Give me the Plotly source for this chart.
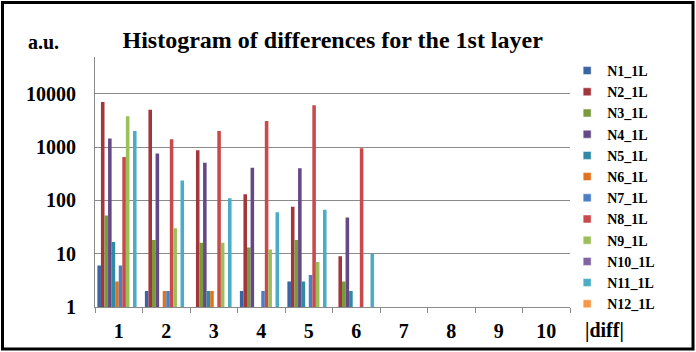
import plotly.graph_objects as go

categories = ["1", "2", "3", "4", "5", "6", "7", "8", "9", "10"]
series_names = ["N1_1L", "N2_1L", "N3_1L", "N4_1L", "N5_1L", "N6_1L",
                "N7_1L", "N8_1L", "N9_1L", "N10_1L", "N11_1L", "N12_1L"]
N = None
N1_1L = [6, 2, N, 2, 3, N, N, N, N, N]
N2_1L = [7000, 5000, 870, 130, 76, 9, N, N, N, N]
N3_1L = [52, 18, 16, 13, 18, 3, N, N, N, N]
N4_1L = [1450, 760, 510, 410, 400, 48, N, N, N, N]
N5_1L = [16.5, N, 2, N, 3, 2, N, N, N, N]
N6_1L = [3, 2, 2, N, N, N, N, N, N, N]
N7_1L = [6, 2, N, 2, 4, N, N, N, N, N]
N8_1L = [650, 1400, 2000, 3100, 6100, 950, N, N, N, N]
N9_1L = [3800, 30, 16, 12, 7, N, N, N, N, N]
N10_1L = [N, N, N, N, N, N, N, N, N, N]
N11_1L = [2000, 235, 110, 60, 67, 10, N, N, N, N]
N12_1L = [N, N, N, N, N, N, N, N, N, N]
series_values = [N1_1L, N2_1L, N3_1L, N4_1L, N5_1L, N6_1L,
                 N7_1L, N8_1L, N9_1L, N10_1L, N11_1L, N12_1L]
colors = ["#3A64A2", "#A3363A", "#7A9A3E", "#634A84", "#2F8AA6", "#E2721C",
          "#4A7FC6", "#C84A4B", "#9BBF59", "#8064A2", "#4BACC6", "#F79646"]
y_tickvals = [1, 10, 100, 1000, 10000]
y_ticktext = ["1", "10", "100", "1000", "10000"]

FONT = "Liberation Serif, Times New Roman, serif"

fig = go.Figure()
for name, vals, col in zip(series_names, series_values, colors):
    fig.add_trace(go.Bar(x=categories, y=vals, name=name, marker_color=col,
                         marker_line_width=0, showlegend=False))
for name, col in zip(series_names, colors):
    fig.add_trace(go.Scatter(x=[None], y=[None], mode="markers", name=name,
                             marker=dict(symbol="square", size=8, color=col,
                                         line=dict(width=0.5, color="#ffffff"))))

fig.update_layout(
    width=696, height=352,
    margin=dict(l=95, r=126, t=57, b=45, autoexpand=False),
    paper_bgcolor="white", plot_bgcolor="white",
    barmode="group", bargap=0.1, bargroupgap=0,
    showlegend=True,
    title=dict(text="Histogram of differences for the 1st layer",
               x=0.478, xanchor="center", y=1 - 40 / 352, yanchor="middle",
               font=dict(family=FONT, size=24, color="black", weight=700)),
    legend=dict(x=0.994, xanchor="left", y=1.008, yanchor="top",
                maxheight=300,
                font=dict(family=FONT, size=14, color="black", weight=700),
                itemwidth=30, tracegroupgap=0, bgcolor="rgba(0,0,0,0)"),
    xaxis=dict(type="category", categoryorder="array", categoryarray=categories,
               showline=True, linecolor="#8a8a8a", linewidth=1,
               ticks="outside", ticklen=5, tickcolor="#8a8a8a", tickson="boundaries",
               showgrid=False, ticklabelstandoff=6, automargin=False,
               tickfont=dict(family=FONT, size=20, color="black", weight=700)),
    yaxis=dict(type="log", range=[0, 4.69], tickvals=y_tickvals, ticktext=y_ticktext,
               showline=True, linecolor="#8a8a8a", linewidth=1,
               showgrid=True, gridcolor="#8a8a8a", gridwidth=1,
               ticks="", ticklabelstandoff=14, zeroline=False, automargin=False,
               tickfont=dict(family=FONT, size=20, color="black", weight=700)),
    annotations=[
        dict(text="a.u.", xref="paper", yref="paper", x=-0.109, y=1.06,
             showarrow=False, xanchor="center", yanchor="middle",
             font=dict(family=FONT, size=20, color="black", weight=700)),
        dict(text="|diff|", xref="paper", yref="paper", x=1.072, y=-0.092,
             showarrow=False, xanchor="center", yanchor="middle",
             font=dict(family=FONT, size=20, color="black", weight=700)),
    ],
    shapes=[dict(type="rect", xref="paper", yref="paper",
                 x0=(2.5 - 95) / 475, x1=(693 - 95) / 475,
                 y0=(307 - 349) / 250, y1=(307 - 2.5) / 250,
                 line=dict(color="black", width=3), fillcolor="rgba(0,0,0,0)",
                 layer="below")],
)

fig.write_html("out.html",
               config={"displayModeBar": False},
               post_script="document.body.style.margin='0';document.body.style.overflow='hidden';")
